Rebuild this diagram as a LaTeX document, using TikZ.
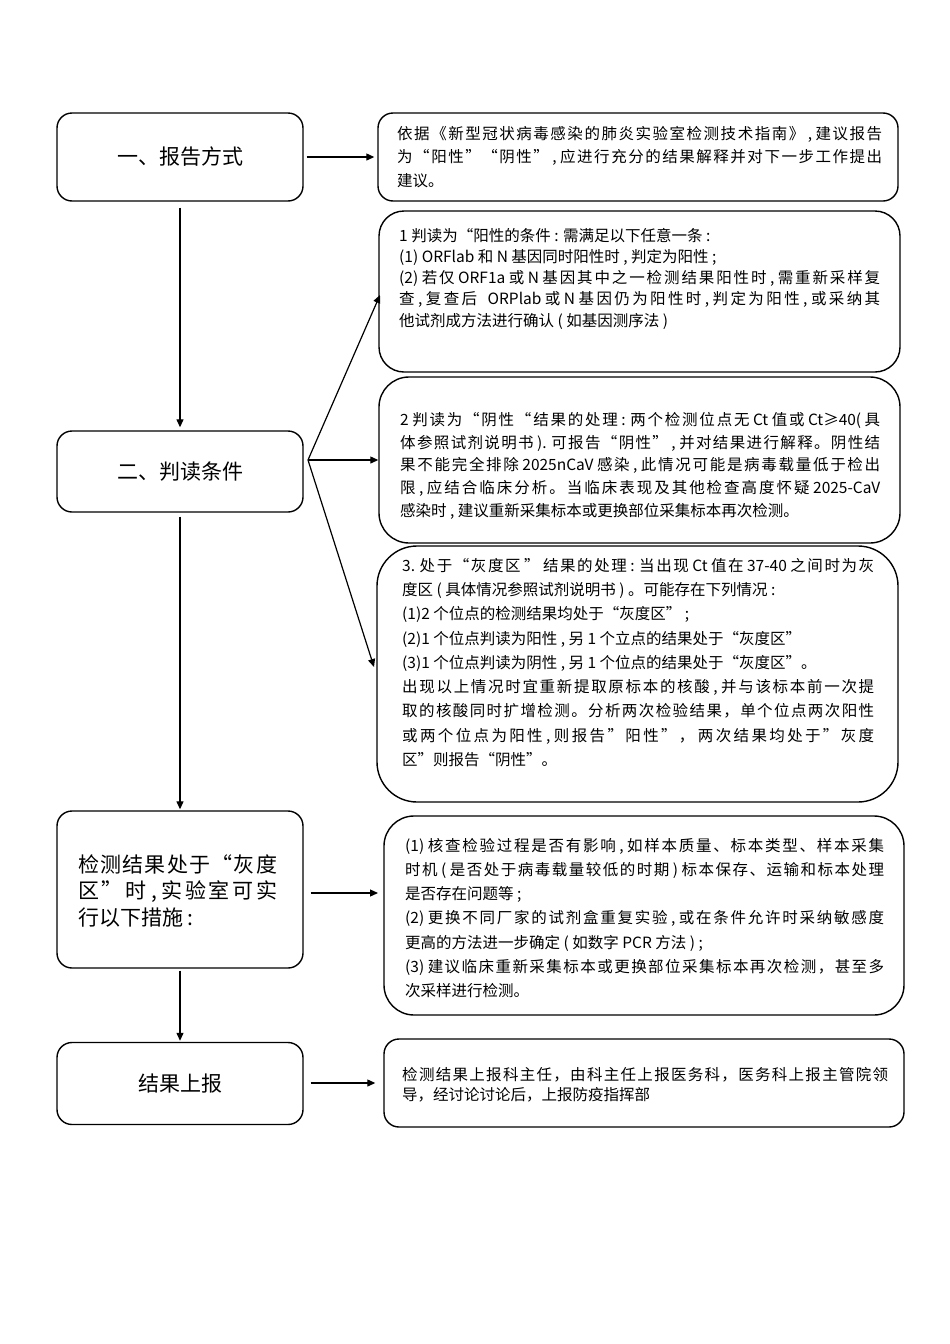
\documentclass[tikz,border=0pt]{standalone}
\usepackage{fontspec}
\setmainfont{Noto Sans CJK SC}
\usetikzlibrary{arrows.meta}
% inter-character stretch for CJK so that full lines can be justified
\newXeTeXintercharclass\CJKcls
\count255="4E00
\loop \XeTeXcharclass\count255=\CJKcls \ifnum\count255<"9FFF \advance\count255 1 \repeat
\count255="3000
\loop \XeTeXcharclass\count255=\CJKcls \ifnum\count255<"303F \advance\count255 1 \repeat
\count255="FF00
\loop \XeTeXcharclass\count255=\CJKcls \ifnum\count255<"FFEF \advance\count255 1 \repeat
\XeTeXcharclass"201C=\CJKcls
\XeTeXcharclass"201D=\CJKcls
\XeTeXinterchartoks\CJKcls\CJKcls={\hskip0pt plus 1fil\relax}
\XeTeXinterchartoks\CJKcls 0={\hskip0pt plus 1fil\relax}
\XeTeXinterchartoks 0\CJKcls={\hskip0pt plus 1fil\relax}
\XeTeXinterchartokenstate=1
\newcommand{\jl}[2]{\makebox[#1][s]{#2}}
\newcommand{\nl}[1]{\mbox{#1}}
\tikzset{
  box/.style={draw, line width=1.4pt, inner sep=0pt},
  lbox/.style={box, rounded corners=15pt, minimum width=246pt},
  title/.style={font=\fontsize{21}{27}\selectfont},
  body/.style={anchor=north west, inner sep=0pt, align=left},
  arr/.style={-{Triangle[length=8pt,width=7pt]}, line width=1.2pt},
}
\begin{document}
\begin{tikzpicture}[x=1pt,y=-1pt]
\useasboundingbox (0,0) rectangle (950,1344);
% left column
\node[lbox, minimum height=88pt, title] (b1) at (180,157) {\nl{一、报告方式}};
\node[lbox, minimum height=81pt, title] (b2) at (180,471.5) {\nl{二、判读条件}};
\node[lbox, minimum height=157pt] (b3) at (180,889.5) {};
\node[lbox, minimum height=82pt, title] (b4) at (180,1083.5) {\nl{结果上报}};
\node[body, font=\fontsize{21}{26.5}\selectfont] (t3) at (78,854.5) {%
\jl{199pt}{检测结果处于“灰度}\\
\jl{199pt}{区”时 , 实验室可实}\\
\nl{行以下措施 :}};
% right column boxes
\node[box, rounded corners=15pt, minimum width=520pt, minimum height=88pt] (r1) at (638,157) {};
\node[box, rounded corners=25pt, minimum width=521pt, minimum height=161pt] (r2) at (639.5,291.5) {};
\node[box, rounded corners=30pt, minimum width=521pt, minimum height=166pt] (r3) at (639.5,460) {};
\node[box, rounded corners=40pt, minimum width=521pt, minimum height=256pt] (r4) at (637.5,674) {};
\node[box, rounded corners=30pt, minimum width=520pt, minimum height=199pt] (r5) at (644,915.5) {};
\node[box, rounded corners=15pt, minimum width=520pt, minimum height=88pt] (r6) at (644,1083) {};
% texts
\node[body, font=\fontsize{15.5}{23.5}\selectfont] (x1) at (397,126) {%
\jl{485pt}{依据《新型冠状病毒感染的肺炎实验室检测技术指南》 , 建议报告}\\
\jl{485pt}{为“阳性”“阴性” , 应进行充分的结果解释并对下一步工作提出}\\
\nl{建议。}};
\node[body, font=\fontsize{15.5}{21.2}\selectfont] (x2) at (399,228) {%
\nl{1 判读为“阳性的条件 : 需满足以下任意一条 :}\\
\nl{(1) ORFlab 和 N 基因同时阳性时 , 判定为阳性 ;}\\
\jl{481pt}{(2) 若仅 ORF1a 或 N 基因其中之一检测结果阳性时 , 需重新采样复}\\
\jl{481pt}{查 , 复查后 \ \ ORPlab 或 N 基因仍为阳性时 , 判定为阳性 , 或采纳其}\\
\nl{他试剂成方法进行确认 ( 如基因测序法 )}};
\node[body, font=\fontsize{15.5}{22.8}\selectfont] (x3) at (400,412) {%
\jl{480pt}{2 判读为“阴性“结果的处理 : 两个检测位点无 Ct 值或 Ct≥40( 具}\\
\jl{480pt}{体参照试剂说明书 ). 可报告“阴性” , 并对结果进行解释。阴性结}\\
\jl{480pt}{果不能完全排除 2025nCaV 感染 , 此情况可能是病毒载量低于检出}\\
\jl{480pt}{限 , 应结合临床分析。当临床表现及其他检查高度怀疑 2025-CaV}\\
\nl{感染时 , 建议重新采集标本或更换部位采集标本再次检测。}};
\node[body, font=\fontsize{15.5}{24.25}\selectfont] (x4) at (402,558) {%
\jl{472pt}{3. 处于“灰度区 " 结果的处理 : 当出现 Ct 值在 37-40 之间时为灰}\\
\nl{度区 ( 具体情况参照试剂说明书 ) 。可能存在下列情况 :}\\
\nl{(1)2 个位点的检测结果均处于“灰度区” ;}\\
\nl{(2)1 个位点判读为阳性 , 另 1 个立点的结果处于“灰度区”}\\
\nl{(3)1 个位点判读为阴性 , 另 1 个位点的结果处于“灰度区”。}\\
\jl{472pt}{出现以上情况时宜重新提取原标本的核酸 , 并与该标本前一次提}\\
\jl{472pt}{取的核酸同时扩增检测。分析两次检验结果，单个位点两次阳性}\\
\jl{472pt}{或两个位点为阳性 , 则报告”阳性”， 两次结果均处于”灰度}\\
\nl{区”则报告“阴性”。}};
\node[body, font=\fontsize{15.5}{24.2}\selectfont] (x5) at (405,838) {%
\jl{479pt}{(1) 核查检验过程是否有影响 , 如样本质量、标本类型、样本采集}\\
\jl{479pt}{时机 ( 是否处于病毒载量较低的时期 ) 标本保存、运输和标本处理}\\
\nl{是否存在问题等 ;}\\
\jl{479pt}{(2) 更换不同厂家的试剂盒重复实验 , 或在条件允许时采纳敏感度}\\
\nl{更高的方法进一步确定 ( 如数字 PCR 方法 ) ;}\\
\jl{479pt}{(3) 建议临床重新采集标本或更换部位采集标本再次检测，甚至多}\\
\nl{次采样进行检测。}};
\node[body, font=\fontsize{15.5}{20}\selectfont] (x6) at (402,1067) {%
\jl{486pt}{检测结果上报科主任，由科主任上报医务科，医务科上报主管院领}\\
\nl{导，经讨论讨论后，上报防疫指挥部}};
% connectors
\draw[arr, shorten <=3pt, shorten >=3pt] (b1.east) -- (r1.west);
\draw[arr, shorten <=6pt, shorten >=3pt] (b1.south) -- (b2.north);
\draw[arr, shorten <=4pt, shorten >=1pt] (b2.south) -- (b3.north);
\draw[arr, shorten <=2pt, shorten >=1pt] (b3.south) -- (b4.north);
\draw[arr, shorten <=7pt, shorten >=8pt] (b4.east |- r6.west) -- (r6.west);
\coordinate (p5) at (378,893);
\draw[arr, shorten <=7pt] (b3.east |- p5) -- (p5);
\coordinate (fan) at (308,460);
\coordinate (t2) at (380,295);
\coordinate (t4) at (374,667);
\draw[arr] (fan) -- (t2);
\draw[arr] (fan) -- (r3.west);
\draw[arr] (fan) -- (t4);
\end{tikzpicture}
\end{document}
